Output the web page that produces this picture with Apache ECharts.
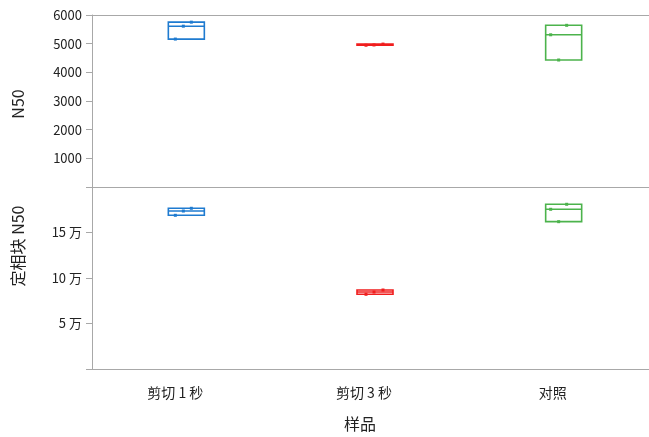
<!DOCTYPE html>
<html>
<head>
<meta charset="utf-8">
<script src="https://cdn.jsdelivr.net/npm/echarts@6/dist/echarts.min.js"></script>
<style>
  html, body { margin: 0; padding: 0; background: #fff; overflow: hidden; width: 649px; height: 437px; }
  #chart { width: 658px; height: 437px; }
</style>
</head>
<body>
<div id="chart"></div>
<script>
// Samples and three replicate measurements per sample
const categories = ['剪切 1 秒', '剪切 3 秒', '对照'];
const n50Values = [
  [5160, 5610, 5750],
  [4945, 4955, 4985],
  [5310, 4430, 5640]
];
const phasedN50Values = [
  [168900, 173600, 176600],
  [82100, 84600, 86800],
  [175500, 161900, 181000]
];
const n50Ticks = [0, 1000, 2000, 3000, 4000, 5000, 6000];
const phasedTicks = [0, 50000, 100000, 150000, 200000];

const COLORS = ['#1f7bd0', '#f01e1e', '#4cb34c'];
// horizontal spread of replicate dots around each box centre (px)
const DOT_SPREAD = [[-11, -3, 5], [-9, -1, 8], [-13, -5, 3]];
const AXIS_GRAY = '#a8a8a8';
const TEXT = '#222';
const FONT = '"Noto Sans CJK SC", "Noto Sans", sans-serif';

function boxStats(values) {
  return values.map((vals, i) => {
    const s = vals.slice().sort((a, b) => a - b);
    return [i, s[0], s[1], s[2]];
  });
}
function dotData(values) {
  const out = [];
  values.forEach((vals, i) => vals.forEach((v, r) => out.push([i, v, r])));
  return out;
}

function renderBox(params, api) {
  const idx = api.value(0);
  const x = api.coord([idx, api.value(1)])[0];
  const yLo = api.coord([idx, api.value(1)])[1];
  const yMed = api.coord([idx, api.value(2)])[1];
  const yHi = api.coord([idx, api.value(3)])[1];
  const w = 36;
  const c = COLORS[idx];
  return {
    type: 'group',
    children: [
      { type: 'rect', shape: { x: x - w / 2, y: yHi, width: w, height: yLo - yHi },
        style: { fill: 'none', stroke: c, lineWidth: 1.6 } },
      { type: 'line', shape: { x1: x - w / 2, y1: yMed, x2: x + w / 2, y2: yMed },
        style: { stroke: c, lineWidth: 1.6 } }
    ]
  };
}
function renderDot(params, api) {
  const idx = api.value(0);
  const r = api.value(2);
  const p = api.coord([idx, api.value(1)]);
  const x = p[0] + DOT_SPREAD[idx][r];
  return { type: 'rect', shape: { x: x - 1.5, y: p[1] - 1.5, width: 3, height: 3 },
           style: { fill: COLORS[idx] } };
}

const yCommon = {
  type: 'value',
  axisLine: { show: true, lineStyle: { color: AXIS_GRAY, width: 1 } },
  axisTick: { show: true, length: 6, lineStyle: { color: AXIS_GRAY } },
  splitLine: { show: false },
  axisLabel: { fontSize: 13, color: TEXT, margin: 10, fontFamily: FONT }
};
const xCommon = {
  type: 'category',
  data: categories,
  boundaryGap: true,
  axisLine: { show: true, lineStyle: { color: AXIS_GRAY, width: 1 } },
  axisTick: { show: false },
  axisLabel: { show: false }
};

const chart = echarts.init(document.getElementById('chart'), null, { renderer: 'canvas' });
chart.setOption({
  animation: false,
  backgroundColor: '#fff',
  textStyle: { fontFamily: FONT },
  grid: [
    { left: 92, top: 15, right: 0, height: 172 },
    { left: 92, top: 187, right: 0, height: 182 }
  ],
  xAxis: [
    Object.assign({}, xCommon, { gridIndex: 0 }),
    Object.assign({}, xCommon, { gridIndex: 0, position: 'top' }),
    Object.assign({}, xCommon, {
      gridIndex: 1,
      axisLabel: { show: true, fontSize: 14, color: TEXT, margin: 17, fontFamily: FONT,
                   padding: [0, 22, 0, 0] },
      name: '样品',
      nameLocation: 'middle',
      nameGap: 47,
      nameTextStyle: { fontSize: 16, color: TEXT, fontFamily: FONT, padding: [0, 30, 0, 0] }
    })
  ],
  yAxis: [
    Object.assign({}, yCommon, {
      gridIndex: 0,
      min: n50Ticks[0], max: n50Ticks[n50Ticks.length - 1], interval: n50Ticks[1] - n50Ticks[0],
      axisLabel: Object.assign({}, yCommon.axisLabel, {
        formatter: v => (v === 0 ? '' : String(v))
      })
    }),
    Object.assign({}, yCommon, {
      gridIndex: 1,
      min: phasedTicks[0], max: phasedTicks[phasedTicks.length - 1], interval: phasedTicks[1] - phasedTicks[0],
      axisLabel: Object.assign({}, yCommon.axisLabel, {
        formatter: v => (v === 0 || v === 200000 ? '' : (v / 10000) + ' 万')
      })
    })
  ],
  graphic: [
    { type: 'text', x: 18, y: 104, rotation: Math.PI / 2,
      style: { text: 'N50', fontSize: 16, fill: TEXT, fontFamily: FONT,
               align: 'center', verticalAlign: 'middle' } },
    { type: 'text', x: 18, y: 246, rotation: Math.PI / 2,
      style: { text: '定相块 N50', fontSize: 16, fill: TEXT, fontFamily: FONT,
               align: 'center', verticalAlign: 'middle' } }
  ],
  series: [
    { type: 'custom', xAxisIndex: 0, yAxisIndex: 0, data: boxStats(n50Values),
      renderItem: renderBox, encode: { x: 0, y: [1, 3] }, silent: true },
    { type: 'custom', xAxisIndex: 0, yAxisIndex: 0, data: dotData(n50Values),
      renderItem: renderDot, encode: { x: 0, y: 1 }, silent: true, z: 3 },
    { type: 'custom', xAxisIndex: 2, yAxisIndex: 1, data: boxStats(phasedN50Values),
      renderItem: renderBox, encode: { x: 0, y: [1, 3] }, silent: true },
    { type: 'custom', xAxisIndex: 2, yAxisIndex: 1, data: dotData(phasedN50Values),
      renderItem: renderDot, encode: { x: 0, y: 1 }, silent: true, z: 3 }
  ]
});
</script>
</body>
</html>
